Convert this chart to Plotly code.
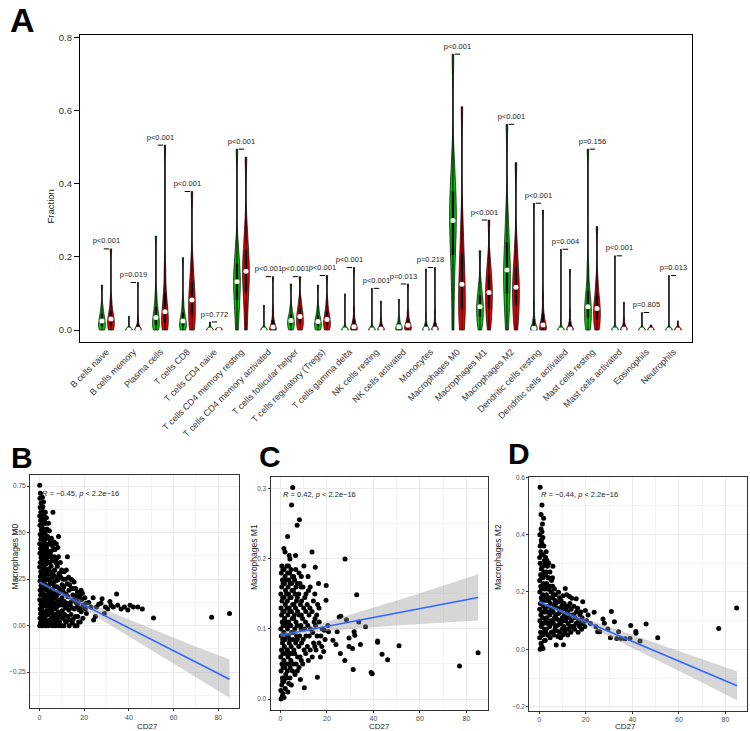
import numpy as np
import plotly.graph_objects as go

W, H = 750, 731
FONT = "Liberation Sans, Arial, sans-serif"


def px(x):
    return x / W


def py(y):
    return 1 - y / H


# ---------------- panel A: immune cell fractions (green = low, red = high) ----------------
cell_types = ["B cells naive", "B cells memory", "Plasma cells", "T cells CD8", "T cells CD4 naive",
              "T cells CD4 memory resting", "T cells CD4 memory activated", "T cells follicular helper",
              "T cells regulatory (Tregs)", "T cells gamma delta", "NK cells resting", "NK cells activated",
              "Monocytes", "Macrophages M0", "Macrophages M1", "Macrophages M2", "Dendritic cells resting",
              "Dendritic cells activated", "Mast cells resting", "Mast cells activated", "Eosinophils",
              "Neutrophils"]

p_labels = ["p<0.001", "p=0.019", "p<0.001", "p<0.001", "p=0.772", "p<0.001", "p<0.001", "p<0.001",
            "p<0.001", "p<0.001", "p<0.001", "p=0.013", "p=0.218", "p<0.001", "p<0.001", "p<0.001",
            "p<0.001", "p=0.004", "p=0.156", "p<0.001", "p=0.805", "p=0.013"]

# deciles (0%,10%,...,100%) of each group
green_fracs = [
    [0, .002, .007, .013, .019, .025, .031, .039, .049, .066, .123],
    [0, 0, 0, 0, 0, 0, 0, 0, 0, .002, .038],
    [0, .004, .010, .018, .026, .034, .043, .055, .072, .10, .257],
    [0, .002, .007, .013, .019, .025, .032, .041, .054, .078, .198],
    [0, 0, 0, 0, 0, 0, 0, 0, 0, 0, .022],
    [0, .04, .07, .095, .115, .132, .15, .17, .195, .235, .495],
    [0, 0, 0, 0, 0, 0, 0, 0, 0, .005, .068],
    [0, .004, .010, .016, .021, .026, .031, .038, .047, .062, .126],
    [0, .003, .008, .013, .018, .023, .029, .036, .045, .062, .123],
    [0, 0, 0, 0, 0, 0, 0, 0, .002, .010, .099],
    [0, 0, 0, 0, 0, 0, 0, 0, .003, .012, .114],
    [0, 0, .001, .003, .006, .009, .012, .016, .022, .033, .084],
    [0, 0, 0, 0, 0, .003, .007, .013, .022, .040, .167],
    [0, .11, .18, .23, .27, .30, .33, .36, .40, .46, .755],
    [0, .015, .030, .042, .053, .064, .075, .088, .104, .13, .217],
    [0, .05, .085, .115, .14, .164, .19, .22, .26, .32, .563],
    [0, 0, 0, 0, 0, .005, .012, .022, .037, .07, .347],
    [0, 0, 0, 0, 0, 0, 0, 0, .002, .012, .221],
    [0, .01, .025, .04, .052, .064, .078, .095, .12, .17, .495],
    [0, 0, 0, 0, 0, 0, 0, 0, .002, .010, .203],
    [0, 0, 0, 0, 0, 0, 0, 0, 0, 0, .048],
    [0, 0, 0, 0, 0, 0, 0, 0, 0, .004, .149],
]

red_fracs = [
    [0, .004, .010, .017, .024, .030, .037, .046, .059, .083, .222],
    [0, 0, 0, 0, 0, .002, .006, .012, .020, .035, .130],
    [0, .006, .015, .026, .038, .050, .066, .086, .115, .17, .506],
    [0, .012, .030, .048, .065, .082, .10, .12, .145, .19, .379],
    [0, 0, 0, 0, 0, 0, 0, 0, 0, 0, .006],
    [0, .05, .09, .118, .14, .161, .182, .205, .235, .285, .473],
    [0, 0, 0, 0, .003, .008, .014, .022, .033, .055, .146],
    [0, .006, .014, .021, .029, .037, .045, .054, .066, .085, .146],
    [0, .004, .010, .017, .023, .029, .036, .045, .057, .078, .149],
    [0, 0, 0, .002, .005, .009, .014, .022, .034, .058, .171],
    [0, 0, 0, 0, 0, .003, .007, .012, .019, .032, .079],
    [0, 0, .002, .005, .009, .013, .018, .024, .033, .050, .126],
    [0, 0, 0, 0, .001, .003, .008, .015, .026, .048, .171],
    [0, .02, .045, .07, .097, .125, .155, .19, .23, .30, .611],
    [0, .03, .05, .068, .086, .103, .12, .138, .16, .195, .301],
    [0, .03, .055, .078, .098, .117, .138, .162, .19, .24, .458],
    [0, 0, 0, .003, .008, .014, .022, .034, .052, .09, .328],
    [0, 0, 0, 0, .001, .003, .008, .016, .028, .050, .166],
    [0, .01, .024, .037, .048, .059, .071, .086, .106, .14, .283],
    [0, 0, 0, 0, .001, .003, .006, .011, .018, .030, .076],
    [0, 0, 0, 0, 0, 0, 0, 0, 0, 0, .014],
    [0, 0, 0, 0, 0, 0, 0, 0, .002, .006, .025],
]

# ---------------- panels B-D: CD27 vs macrophages ----------------
m0_pts = [
    (0.1, 0.755), (0.4, 0.712), (0.2, 0.685), (0.7, 0.66), (0.3, 0.635), (0.6, 0.61), (0.1, 0.59), (0.5, 0.565),
    (0.2, 0.54), (0.8, 0.515), (0.3, 0.49), (0.6, 0.465), (0.1, 0.44), (0.5, 0.415), (0.2, 0.39), (0.7, 0.365),
    (0.3, 0.34), (0.1, 0.315), (0.6, 0.29), (0.4, 0.265), (0.2, 0.24), (0.7, 0.215), (0.3, 0.19), (0.5, 0.165),
    (0.1, 0.14), (0.6, 0.115), (0.3, 0.09), (0.5, 0.065), (0.2, 0.04), (0.4, 0.015), (0.1, 0.0), (0.8, 0.0),
    (1.0, 0.03), (1.0, 0.08), (0.9, 0.13), (1.1, 0.18), (1.0, 0.23), (0.9, 0.28), (1.1, 0.33), (1.0, 0.38),
    (0.9, 0.43), (1.1, 0.48), (1.0, 0.53), (0.9, 0.58),
    (1.3, 0.69), (1.8, 0.665), (1.5, 0.64), (1.2, 0.62), (2.0, 0.6), (1.4, 0.575), (1.9, 0.55), (1.3, 0.525),
    (1.7, 0.5), (1.2, 0.475), (2.0, 0.45), (1.5, 0.425), (1.3, 0.4), (1.8, 0.375), (1.4, 0.35), (2.0, 0.325),
    (1.6, 0.3), (1.2, 0.275), (1.9, 0.25), (1.4, 0.225), (1.7, 0.2), (1.3, 0.175), (2.0, 0.15), (1.5, 0.125),
    (1.2, 0.1), (1.8, 0.075), (1.4, 0.05), (1.9, 0.025), (1.5, 0.0),
    (2.2, 0.012), (2.3, 0.06), (2.2, 0.11), (2.1, 0.16), (2.3, 0.21), (2.2, 0.26), (2.1, 0.31), (2.3, 0.36),
    (2.2, 0.41), (2.1, 0.46), (2.3, 0.51), (2.2, 0.56),
    (2.6, 0.61), (3.1, 0.58), (2.8, 0.55), (3.3, 0.52), (2.5, 0.495), (3.0, 0.47), (2.7, 0.44), (3.2, 0.41),
    (2.6, 0.385), (3.1, 0.355), (2.8, 0.33), (3.3, 0.3), (2.5, 0.275), (3.0, 0.245), (2.7, 0.22), (3.2, 0.19),
    (2.6, 0.165), (3.0, 0.135), (2.8, 0.105), (3.3, 0.08), (2.6, 0.05), (3.1, 0.025), (2.9, 0.0),
    (3.5, 0.015), (3.6, 0.065), (3.5, 0.11), (3.4, 0.16), (3.6, 0.2), (3.5, 0.25), (3.4, 0.29), (3.6, 0.34),
    (3.5, 0.39), (3.4, 0.43), (3.6, 0.48),
    (4.0, 0.55), (4.4, 0.51), (3.9, 0.47), (4.5, 0.44), (4.1, 0.4), (3.8, 0.37), (4.6, 0.34), (4.2, 0.305),
    (3.9, 0.275), (4.5, 0.245), (4.0, 0.21), (4.4, 0.18), (3.8, 0.15), (4.3, 0.12), (4.6, 0.09), (4.0, 0.06),
    (4.4, 0.03), (4.1, 0.0),
    (4.8, 0.02), (4.9, 0.085), (4.8, 0.14), (4.7, 0.18), (4.9, 0.23), (4.8, 0.28), (4.7, 0.34), (4.9, 0.38),
    (4.8, 0.45),
    (6.0, 0.61), (5.3, 0.47), (5.8, 0.43), (5.1, 0.4), (5.6, 0.36), (5.2, 0.32), (5.9, 0.29), (5.4, 0.255),
    (5.0, 0.225), (5.7, 0.195), (5.3, 0.16), (5.9, 0.13), (5.1, 0.1), (5.6, 0.07), (5.3, 0.04), (5.8, 0.0),
    (6.1, 0.015), (6.2, 0.05), (6.1, 0.11), (6.0, 0.17), (6.2, 0.23), (6.1, 0.29), (6.0, 0.35), (6.2, 0.41),
    (6.5, 0.45), (7.0, 0.41), (6.6, 0.37), (7.3, 0.34), (6.8, 0.3), (6.4, 0.27), (7.2, 0.24), (6.7, 0.21),
    (7.4, 0.18), (6.5, 0.15), (7.0, 0.12), (6.6, 0.09), (7.3, 0.06), (6.9, 0.03), (7.1, 0.0),
    (7.5, 0.02), (7.6, 0.1), (7.5, 0.16), (7.7, 0.26), (7.6, 0.36), (7.5, 0.44),
    (8.5, 0.48), (8.2, 0.42), (8.5, 0.37), (8.0, 0.32), (8.7, 0.28), (8.2, 0.245), (7.8, 0.21), (8.6, 0.175),
    (8.1, 0.14), (8.8, 0.11), (8.3, 0.075), (7.9, 0.04), (8.5, 0.0),
    (9.0, 0.02), (9.1, 0.06), (9.0, 0.13), (8.9, 0.2), (9.1, 0.28),
    (9.3, 0.34), (9.9, 0.3), (9.5, 0.26), (10.1, 0.22), (9.4, 0.185), (10.0, 0.15), (9.6, 0.115), (10.2, 0.08),
    (9.5, 0.045), (9.9, 0.0),
    (10.5, 0.04), (10.6, 0.11), (10.4, 0.19), (10.5, 0.25),
    (11.0, 0.29), (11.6, 0.25), (10.9, 0.21), (11.5, 0.17), (11.1, 0.13), (11.7, 0.095), (11.2, 0.06),
    (11.6, 0.025), (10.9, 0.0),
    (12.0, 0.02), (12.1, 0.1), (11.9, 0.17), (12.0, 0.3),
    (12.5, 0.37), (13.0, 0.26), (12.4, 0.225), (13.2, 0.19), (12.7, 0.155), (12.3, 0.12), (13.1, 0.085),
    (12.6, 0.05), (13.3, 0.0),
    (13.6, 0.03), (13.7, 0.11), (13.5, 0.22),
    (14.0, 0.25), (14.6, 0.245), (14.2, 0.2), (14.9, 0.165), (14.3, 0.13), (14.8, 0.095), (14.1, 0.06),
    (14.7, 0.015),
    (15.0, 0.035), (15.1, 0.14), (15.0, 0.2),
    (15.5, 0.235), (16.2, 0.2), (15.8, 0.16), (16.4, 0.125), (15.6, 0.09), (16.1, 0.05), (15.9, 0.0),
    (16.8, 0.0), (16.9, 0.1), (16.7, 0.14),
    (17.0, 0.18), (17.6, 0.155), (17.2, 0.12), (17.8, 0.085), (17.1, 0.05), (17.5, 0.02),
    (18.2, 0.02), (18.3, 0.095), (18.1, 0.16),
    (18.6, 0.19), (19.2, 0.175), (18.9, 0.14), (19.6, 0.11), (18.7, 0.075), (19.4, 0.04),
    (20.3, 0.15), (20.8, 0.12), (20.5, 0.09), (21.0, 0.065),
    (22.0, 0.125), (23.0, 0.1), (24.0, 0.15), (24.2, 0.03), (25.0, 0.05), (25.5, 0.1), (26.5, 0.115),
    (27.5, 0.12), (28.0, 0.145), (29.0, 0.065), (29.5, 0.1), (30.5, 0.09), (31.5, 0.13), (32.0, 0.11),
    (33.0, 0.1), (34.5, 0.17), (35.0, 0.11), (36.5, 0.09), (38.0, 0.1), (39.5, 0.085), (40.5, 0.11),
    (42.0, 0.1), (44.0, 0.1), (46.0, 0.09), (51.0, 0.042), (77.0, 0.045), (85.0, 0.065),
]

m1_pts = [
    (0.3, 0.0), (0.8, 0.004), (0.2, 0.012), (0.6, 0.02), (0.9, 0.03), (0.3, 0.04), (0.7, 0.05), (0.2, 0.06),
    (0.5, 0.07), (0.9, 0.08), (0.4, 0.09), (0.2, 0.1), (0.8, 0.11), (0.5, 0.12), (0.3, 0.13), (0.7, 0.14),
    (0.2, 0.15), (0.6, 0.16), (0.9, 0.17), (0.4, 0.18), (0.6, 0.19),
    (1.1, 0.008), (1.0, 0.025), (1.2, 0.045), (1.1, 0.065), (1.0, 0.085), (1.2, 0.105), (1.1, 0.125),
    (1.0, 0.145), (1.2, 0.165), (1.1, 0.185),
    (1.6, 0.002), (2.1, 0.015), (1.5, 0.025), (2.3, 0.035), (1.8, 0.045), (1.5, 0.055), (2.2, 0.065),
    (1.7, 0.075), (2.0, 0.085), (1.5, 0.095), (2.3, 0.105), (1.8, 0.115), (1.6, 0.125), (2.1, 0.135),
    (1.5, 0.145), (2.2, 0.155), (1.7, 0.165), (2.0, 0.175), (1.6, 0.185), (2.0, 0.21), (1.5, 0.215),
    (2.7, 0.03), (2.6, 0.05), (2.8, 0.07), (2.7, 0.09), (2.6, 0.11), (2.8, 0.13), (2.7, 0.15), (2.6, 0.17),
    (2.8, 0.19),
    (3.2, 0.01), (3.6, 0.022), (3.0, 0.04), (3.7, 0.05), (3.3, 0.06), (3.0, 0.07), (3.8, 0.08), (3.4, 0.09),
    (3.1, 0.1), (3.6, 0.11), (3.2, 0.12), (3.8, 0.13), (3.0, 0.14), (3.5, 0.15), (3.3, 0.16), (3.7, 0.17),
    (3.1, 0.18), (3.5, 0.19), (3.8, 0.205), (3.1, 0.232),
    (4.1, 0.03), (4.2, 0.045), (4.0, 0.065), (4.1, 0.085), (4.2, 0.105), (4.0, 0.125), (4.1, 0.145),
    (4.2, 0.165), (4.0, 0.18), (4.1, 0.2),
    (4.7, 0.02), (5.2, 0.04), (4.5, 0.055), (5.0, 0.065), (4.6, 0.075), (5.3, 0.085), (4.8, 0.095),
    (4.5, 0.105), (5.1, 0.115), (4.7, 0.125), (5.3, 0.135), (4.6, 0.145), (5.0, 0.155), (4.8, 0.165),
    (5.2, 0.175), (4.6, 0.185), (4.8, 0.277), (5.3, 0.302),
    (5.7, 0.05), (5.8, 0.07), (5.6, 0.095), (5.7, 0.115), (5.8, 0.135), (5.6, 0.155), (5.7, 0.175),
    (6.3, 0.035), (6.8, 0.05), (6.1, 0.065), (6.6, 0.08), (7.0, 0.09), (6.2, 0.1), (6.7, 0.11), (6.0, 0.12),
    (6.5, 0.13), (6.9, 0.14), (6.3, 0.15), (6.7, 0.16), (6.1, 0.17), (6.6, 0.185), (6.5, 0.205), (7.2, 0.248),
    (7.3, 0.04), (7.4, 0.06), (7.3, 0.085), (7.2, 0.105), (7.4, 0.125), (7.3, 0.145), (7.2, 0.165),
    (8.6, 0.028), (8.0, 0.045), (8.5, 0.06), (7.9, 0.075), (8.3, 0.09), (8.8, 0.105), (8.1, 0.12),
    (8.6, 0.135), (7.9, 0.15), (8.4, 0.165), (8.0, 0.18), (8.2, 0.256),
    (9.0, 0.055), (9.1, 0.08), (8.9, 0.1), (9.0, 0.12), (9.1, 0.14), (8.9, 0.16), (9.0, 0.175),
    (10.3, 0.016), (9.6, 0.05), (10.2, 0.07), (9.8, 0.085), (10.4, 0.1), (9.5, 0.115), (10.0, 0.13),
    (10.5, 0.145), (9.7, 0.16), (10.1, 0.19),
    (10.9, 0.065), (11.0, 0.09), (10.8, 0.11), (10.9, 0.125), (11.0, 0.15),
    (12.0, 0.055), (11.6, 0.075), (12.4, 0.09), (11.8, 0.105), (12.3, 0.12), (11.5, 0.135), (12.1, 0.155),
    (11.9, 0.175),
    (12.8, 0.07), (12.9, 0.1), (12.7, 0.13), (12.8, 0.16),
    (13.7, 0.06), (14.3, 0.08), (13.9, 0.095), (14.5, 0.11), (13.6, 0.125), (14.2, 0.14), (13.6, 0.21),
    (14.8, 0.075), (14.9, 0.115), (14.8, 0.15),
    (15.9, 0.031), (15.3, 0.07), (15.8, 0.09), (15.1, 0.105), (15.6, 0.12), (16.0, 0.135), (15.0, 0.188),
    (16.6, 0.08), (16.7, 0.11), (16.6, 0.13),
    (17.2, 0.06), (17.8, 0.075), (17.4, 0.09), (18.0, 0.1), (16.4, 0.165),
    (18.6, 0.068), (19.2, 0.085), (18.9, 0.098), (19.6, 0.141), (19.7, 0.162),
    (20.4, 0.105), (20.7, 0.096), (22.6, 0.084), (23.9, 0.078), (24.4, 0.096), (25.3, 0.117), (26.0, 0.118),
    (25.8, 0.065), (27.7, 0.055), (27.8, 0.2), (28.4, 0.113), (29.5, 0.087), (29.5, 0.075), (31.0, 0.072),
    (31.3, 0.042), (31.7, 0.096), (32.0, 0.091), (32.8, 0.149), (33.7, 0.110), (34.4, 0.078), (36.6, 0.103),
    (39.0, 0.038), (39.5, 0.036), (41.8, 0.083), (41.8, 0.081), (43.7, 0.064), (46.1, 0.056), (51.0, 0.076),
    (77.0, 0.047), (85.0, 0.066),
]

m2_pts = [
    (0.4, 0.0), (0.8, 0.02), (0.2, 0.04), (0.6, 0.06), (0.9, 0.08), (0.3, 0.1), (0.7, 0.12), (0.2, 0.14),
    (0.5, 0.16), (0.9, 0.18), (0.3, 0.2), (0.7, 0.22), (0.2, 0.24), (0.6, 0.26), (0.9, 0.28), (0.4, 0.3),
    (0.2, 0.32), (0.7, 0.34), (0.4, 0.36), (0.9, 0.38), (0.3, 0.4), (0.8, 0.42), (1.4, 0.437), (0.8, 0.47),
    (1.2, 0.503), (0.4, 0.565),
    (1.1, 0.01), (1.2, 0.05), (1.0, 0.09), (1.1, 0.13), (1.2, 0.17), (1.0, 0.21), (1.1, 0.25), (1.2, 0.29),
    (1.0, 0.33), (1.1, 0.37), (1.2, 0.41),
    (1.6, 0.003), (2.1, 0.03), (1.5, 0.05), (2.3, 0.07), (1.8, 0.09), (1.5, 0.11), (2.2, 0.13), (1.7, 0.15),
    (2.0, 0.17), (1.5, 0.19), (2.3, 0.21), (1.8, 0.23), (1.6, 0.25), (2.1, 0.27), (1.5, 0.29), (2.2, 0.31),
    (1.7, 0.33), (2.0, 0.36), (1.6, 0.39), (1.9, 0.457),
    (2.7, 0.06), (2.8, 0.1), (2.6, 0.14), (2.7, 0.18), (2.8, 0.22), (2.6, 0.26), (2.7, 0.3), (2.8, 0.32),
    (2.6, 0.032), (3.6, 0.05), (3.0, 0.07), (3.7, 0.09), (3.3, 0.11), (3.0, 0.13), (3.8, 0.15), (3.4, 0.17),
    (3.1, 0.19), (3.6, 0.21), (3.2, 0.23), (3.8, 0.25), (3.0, 0.27), (3.5, 0.29), (3.3, 0.31), (3.0, 0.34),
    (4.1, 0.05), (4.2, 0.09), (4.0, 0.13), (4.1, 0.17), (4.2, 0.21), (4.0, 0.25), (4.1, 0.3),
    (4.7, 0.04), (5.2, 0.06), (4.5, 0.08), (5.0, 0.1), (4.6, 0.12), (5.3, 0.14), (4.8, 0.16), (4.5, 0.18),
    (5.1, 0.2), (4.7, 0.22), (5.3, 0.24), (4.6, 0.27),
    (5.7, 0.06), (5.8, 0.1), (5.6, 0.14), (5.7, 0.18), (5.8, 0.22), (5.7, 0.25),
    (6.3, 0.05), (6.8, 0.07), (6.1, 0.09), (6.6, 0.11), (6.0, 0.13), (6.5, 0.15), (6.8, 0.17), (6.2, 0.19),
    (6.6, 0.21), (5.9, 0.29),
    (7.0, 0.08), (7.1, 0.12), (6.9, 0.16), (7.0, 0.19),
    (7.3, 0.015), (8.0, 0.045), (7.5, 0.065), (8.2, 0.085), (7.7, 0.105), (8.3, 0.125), (7.6, 0.145),
    (8.1, 0.165), (8.3, 0.199),
    (8.7, 0.06), (8.8, 0.1), (8.6, 0.14), (8.7, 0.18),
    (9.2, 0.04), (9.8, 0.07), (9.3, 0.09), (9.9, 0.11), (9.1, 0.13), (9.7, 0.15), (9.4, 0.17), (10.2, 0.187),
    (10.1, 0.05), (10.2, 0.1), (10.0, 0.14), (10.1, 0.16),
    (10.4, 0.016), (11.0, 0.06), (10.6, 0.08), (11.3, 0.1), (10.8, 0.12), (11.4, 0.14), (10.7, 0.16),
    (11.2, 0.212),
    (11.8, 0.07), (11.9, 0.11), (11.7, 0.15), (11.8, 0.19),
    (12.2, 0.05), (12.8, 0.07), (12.4, 0.09), (12.9, 0.11), (12.1, 0.13), (12.6, 0.15), (13.0, 0.184),
    (13.2, 0.08), (13.3, 0.12), (13.2, 0.16),
    (13.6, 0.06), (14.2, 0.08), (13.8, 0.1), (14.4, 0.12), (13.7, 0.14), (14.0, 0.178),
    (14.9, 0.08), (14.8, 0.12), (14.9, 0.15),
    (15.2, 0.07), (15.8, 0.09), (15.4, 0.11), (16.0, 0.13), (15.9, 0.176),
    (16.7, 0.06), (17.3, 0.08), (16.9, 0.1), (17.5, 0.12), (16.5, 0.143),
    (17.8, 0.09), (17.9, 0.13),
    (18.2, 0.07), (18.8, 0.09), (18.4, 0.11), (18.7, 0.166),
    (19.6, 0.08), (20.3, 0.1), (19.8, 0.135),
    (21.0, 0.12), (22.0, 0.09), (23.6, 0.129), (24.4, 0.079), (25.1, 0.061), (26.0, 0.061), (27.4, 0.106),
    (28.0, 0.091), (29.5, 0.071), (31.0, 0.132), (30.6, 0.040), (32.3, 0.096), (33.3, 0.038), (34.1, 0.061),
    (35.2, 0.038), (36.9, 0.037), (39.0, 0.038), (39.3, 0.083), (41.5, 0.062), (41.6, 0.056), (43.3, 0.029),
    (45.9, 0.088), (50.9, 0.040), (77.1, 0.073), (84.8, 0.144),
]

# linear fits with 95% bands
fit_x = [0, 85]
band_x = [0, 5, 10, 20, 30, 40, 50, 60, 70, 85]
m0_fit = [0.233, -0.288]
m0_lo = [.224, .194, .162, .089, .016, -.058, -.132, -.206, -.279, -.387]
m0_hi = [.242, .210, .182, .131, .082, .034, -.016, -.064, -.113, -.181]
m1_fit = [0.091, 0.145]
m1_lo = [.0875, .0912, .0939, .0972, .1001, .1024, .1048, .1071, .1095, .112]
m1_hi = [.0945, .0972, .1009, .1102, .1201, .1304, .1408, .1511, .1615, .178]
m2_fit = [0.165, -0.127]
m2_lo = [.159, .143, .125, .085, .045, .005, -.036, -.076, -.116, -.178]
m2_hi = [.171, .153, .137, .107, .079, .051, .022, -.006, -.034, -.076]

cor_labels = ["<i>R</i> = \u22120.45, <i>p</i> &lt; 2.2e\u221216",
              "<i>R</i> = 0.42, <i>p</i> &lt; 2.2e\u221216",
              "<i>R</i> = \u22120.44, <i>p</i> &lt; 2.2e\u221216"]

GREEN = "rgb(0,205,0)"
RED = "rgb(235,0,0)"


def bandwidth(v):
    v = np.asarray(v, dtype=float)
    q1, q3 = np.percentile(v, [25, 75])
    s = min(v.std(ddof=1), (q3 - q1) / 1.349)
    return max(0.7 * 1.059 * s * len(v) ** -0.2, 0.006)


fig = go.Figure()

wx, wy, bx, by, mx_, my_ = [], [], [], [], [], []
br_x, br_y, pt_x, pt_y = [], [], [], []
for i, name in enumerate(cell_types):
    for pos, vals, col in [(3 * i + 1, green_fracs[i], GREEN), (3 * i + 2, red_fracs[i], RED)]:
        fig.add_trace(go.Violin(x0=pos, y=vals, width=0.75, scalemode="width", spanmode="hard",
                                bandwidth=bandwidth(vals), fillcolor=col,
                                line=dict(color="black", width=0.7), points=False,
                                box_visible=False, meanline_visible=False, hoverinfo="skip",
                                showlegend=False, xaxis="x", yaxis="y"))
        q1, med, q3 = np.percentile(vals, [25, 50, 75])
        wx += [pos, pos, None]
        wy += [min(vals), max(vals), None]
        bx += [pos, pos, None]
        by += [q1, q3, None]
        mx_.append(pos)
        my_.append(med)
    top = max(max(green_fracs[i]), max(red_fracs[i]))
    br_x += [3 * i + 1.2, 3 * i + 1.8, None]
    br_y += [top, top, None]
    pt_x.append(3 * i + 1.5)
    pt_y.append(top + 0.02)

fig.add_trace(go.Scatter(x=wx, y=wy, mode="lines", line=dict(color="black", width=1),
                         hoverinfo="skip", showlegend=False, xaxis="x", yaxis="y"))
fig.add_trace(go.Scatter(x=bx, y=by, mode="lines", line=dict(color="black", width=2.5),
                         hoverinfo="skip", showlegend=False, xaxis="x", yaxis="y"))
fig.add_trace(go.Scatter(x=mx_, y=my_, mode="markers", marker=dict(color="white", size=5),
                         hoverinfo="skip", showlegend=False, xaxis="x", yaxis="y"))
fig.add_trace(go.Scatter(x=br_x, y=br_y, mode="lines", line=dict(color="black", width=1),
                         hoverinfo="skip", showlegend=False, xaxis="x", yaxis="y"))
fig.add_trace(go.Scatter(x=pt_x, y=pt_y, mode="text", text=p_labels,
                         textfont=dict(family=FONT, size=7.5, color="#222"),
                         hoverinfo="skip", showlegend=False, xaxis="x", yaxis="y"))


def scatter_panel(pts, fit_y, lo, hi, xa, ya):
    xs, ys = zip(*pts)
    fig.add_trace(go.Scatter(x=xs, y=ys, mode="markers", marker=dict(color="black", size=5),
                             hoverinfo="skip", showlegend=False, xaxis=xa, yaxis=ya))
    fig.add_trace(go.Scatter(x=band_x, y=lo, mode="lines", line=dict(width=0),
                             hoverinfo="skip", showlegend=False, xaxis=xa, yaxis=ya))
    fig.add_trace(go.Scatter(x=band_x, y=hi, mode="lines", line=dict(width=0), fill="tonexty",
                             fillcolor="rgba(153,153,153,0.4)",
                             hoverinfo="skip", showlegend=False, xaxis=xa, yaxis=ya))
    fig.add_trace(go.Scatter(x=fit_x, y=fit_y, mode="lines", line=dict(color="#3366FF", width=1.6),
                             hoverinfo="skip", showlegend=False, xaxis=xa, yaxis=ya))


scatter_panel(m0_pts, m0_fit, m0_lo, m0_hi, "x2", "y2")
scatter_panel(m1_pts, m1_fit, m1_lo, m1_hi, "x3", "y3")
scatter_panel(m2_pts, m2_fit, m2_lo, m2_hi, "x4", "y4")


def gg_x(dom, anchor):
    return dict(domain=dom, anchor=anchor, range=[-4.25, 89.25], tickvals=[0, 20, 40, 60, 80],
                showgrid=True, gridcolor="#EBEBEB", gridwidth=1,
                minor=dict(dtick=10, tick0=0, showgrid=True, gridcolor="#F3F3F3", gridwidth=0.6),
                showline=True, mirror=True, linecolor="#333333", linewidth=1, zeroline=False,
                ticks="outside", ticklen=2, tickcolor="#333333",
                tickfont=dict(family=FONT, size=7, color="#4D4D4D"))


def gg_y(dom, anchor, rng, dtick, fmt):
    return dict(domain=dom, anchor=anchor, range=rng, dtick=dtick, tick0=0, tickformat=fmt,
                showgrid=True, gridcolor="#EBEBEB", gridwidth=1,
                minor=dict(dtick=dtick / 2, tick0=0, showgrid=True, gridcolor="#F3F3F3", gridwidth=0.6),
                showline=True, mirror=True, linecolor="#333333", linewidth=1, zeroline=False,
                ticks="outside", ticklen=2, tickcolor="#333333",
                tickfont=dict(family=FONT, size=6.5, color="#4D4D4D"))


fig.update_layout(
    width=W, height=H, margin=dict(l=0, r=0, t=0, b=0, pad=0), autosize=False,
    paper_bgcolor="white", plot_bgcolor="white", violinmode="overlay", hovermode=False,
    showlegend=False, font=dict(family=FONT, color="#222"),
    xaxis=dict(domain=[px(80), px(692)], anchor="y", range=[-1.44, 66.56],
               tickvals=[3 * i + 1.5 for i in range(len(cell_types))], ticktext=cell_types,
               tickangle=-45, ticks="", showgrid=False, zeroline=False,
               showline=True, mirror=True, linecolor="black", linewidth=1.3,
               tickfont=dict(family=FONT, size=9, color="#333")),
    yaxis=dict(domain=[py(342), py(35)], anchor="x", range=[-0.0328, 0.8074],
               tickvals=[0, 0.2, 0.4, 0.6, 0.8], tickformat=".1f", showgrid=False, zeroline=False,
               showline=True, mirror=True, linecolor="black", linewidth=1.3,
               ticks="outside", ticklen=5, tickcolor="black",
               tickfont=dict(family=FONT, size=9.5, color="#333")),
    xaxis2=gg_x([px(30), px(239)], "y2"),
    yaxis2=gg_y([py(708.3), py(475)], "x2", [-0.444, 0.810], 0.25, ".2f"),
    xaxis3=gg_x([px(270.5), px(488)], "y3"),
    yaxis3=gg_y([py(710), py(477)], "x3", [-0.0157, 0.317], 0.1, ".1f"),
    xaxis4=gg_x([px(529.3), px(747)], "y4"),
    yaxis4=gg_y([py(710.7), py(476.7)], "x4", [-0.214, 0.602], 0.2, ".1f"),
)
# keep the hand-placed domains: no margin pushing from tick labels
fig.update_xaxes(automargin=False)
fig.update_yaxes(automargin=False)

ann = []
# panel letters
for letter, x, y, s in [("A", 22.5, 19.5, 34), ("B", 21.5, 457, 30), ("C", 270, 456, 30), ("D", 519, 453, 30)]:
    ann.append(dict(text="<b>%s</b>" % letter, x=px(x), y=py(y), xref="paper", yref="paper",
                    showarrow=False, xanchor="center", yanchor="middle",
                    font=dict(family=FONT, size=s, color="black")))
# axis titles
ann.append(dict(text="Fraction", x=px(42), y=py(188), xref="paper", yref="paper", showarrow=False,
                textangle=-90, font=dict(family=FONT, size=9.5, color="#222")))
for title, tx, cx in [("Macrophages M0", 7.5, 134.5), ("Macrophages M1", 254, 379), ("Macrophages M2", 505, 638)]:
    ann.append(dict(text=title, x=px(tx), y=py(592), xref="paper", yref="paper", showarrow=False,
                    textangle=-90, font=dict(family=FONT, size=8.5, color="#222")))
    ann.append(dict(text="CD27", x=px(cx), y=py(726), xref="paper", yref="paper", showarrow=False,
                    yanchor="middle", font=dict(family=FONT, size=8, color="#222")))
# correlation labels
for lab, lx, ly in zip(cor_labels, [39.5, 281, 539], [493, 494, 495]):
    ann.append(dict(text=lab, x=px(lx), y=py(ly), xref="paper", yref="paper", showarrow=False,
                    xanchor="left", yanchor="middle", font=dict(family=FONT, size=7.5, color="#222")))
fig.update_layout(annotations=ann)

fig.write_html("out.html", config={"displayModeBar": False},
               post_script="document.body.style.margin='0';")
